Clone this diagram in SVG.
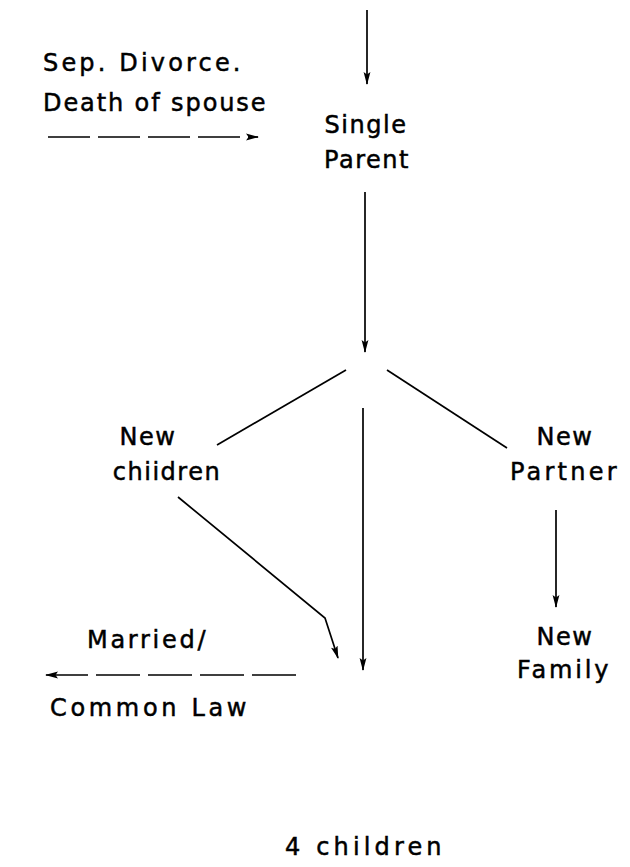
<svg xmlns="http://www.w3.org/2000/svg" width="630" height="867" viewBox="0 0 630 867">
  <style>
    .lbl { font-family: "DejaVu Sans", "Liberation Sans", sans-serif; font-size: 24px; fill: #000; stroke: #000; stroke-width: 0.5; letter-spacing: 1.5px; }
    .mid { text-anchor: middle; }
    .ln { stroke: #000; stroke-width: 1.7; fill: none; }
    .arr { marker-end: url(#head); }
    .dash1 { stroke-dasharray: 42 8; }
    .dash2 { stroke-dasharray: 44 8; }
  </style>
  <defs>
    <marker id="head" viewBox="0 0 13 8" refX="12" refY="4" markerWidth="13" markerHeight="8" markerUnits="userSpaceOnUse" orient="auto">
      <path d="M0,0.6 L13,4 L0,7.4 L2.5,4 z" fill="#000"/>
    </marker>
  </defs>
  <rect width="630" height="867" fill="#fff"/>

  <!-- connectors -->
  <g id="connectors">
    <line class="ln arr" x1="367" y1="10" x2="367" y2="84"/>
    <line class="ln arr dash1" x1="48" y1="137" x2="258" y2="137"/>
    <line class="ln arr" x1="365" y1="192" x2="365" y2="352"/>
    <line class="ln" x1="346" y1="370" x2="217" y2="445"/>
    <line class="ln" x1="387" y1="370" x2="507" y2="448"/>
    <line class="ln arr" x1="363" y1="408" x2="363" y2="670"/>
    <polyline class="ln arr" points="178,497 325,618 338,658"/>
    <line class="ln arr" x1="556" y1="510" x2="556" y2="607"/>
    <line class="ln arr dash2" x1="296" y1="675" x2="46" y2="675"/>
  </g>

  <!-- nodes -->
  <g id="event">
    <text class="lbl" x="43" y="71" textLength="199" lengthAdjust="spacing">Sep. Divorce.</text>
    <text class="lbl" x="43" y="111" textLength="224" lengthAdjust="spacing">Death of spouse</text>
  </g>
  <g id="single-parent">
    <text class="lbl mid" x="366" y="133">Single</text>
    <text class="lbl mid" x="367" y="168">Parent</text>
  </g>
  <g id="new-children">
    <text class="lbl mid" x="148" y="445">New</text>
    <text class="lbl mid" x="167" y="480">chiidren</text>
  </g>
  <g id="new-partner">
    <text class="lbl mid" x="565" y="445">New</text>
    <text class="lbl" x="510" y="480" textLength="108" lengthAdjust="spacing">Partner</text>
  </g>
  <g id="new-family">
    <text class="lbl mid" x="565" y="645">New</text>
    <text class="lbl" x="517" y="678" textLength="93" lengthAdjust="spacing">Family</text>
  </g>
  <g id="married">
    <text class="lbl" x="87" y="648" textLength="120" lengthAdjust="spacing">Married/</text>
    <text class="lbl" x="50" y="716" textLength="198" lengthAdjust="spacing">Common Law</text>
  </g>
  <g id="four-children">
    <text class="lbl" x="285" y="855" textLength="158" lengthAdjust="spacing">4 children</text>
  </g>
</svg>
